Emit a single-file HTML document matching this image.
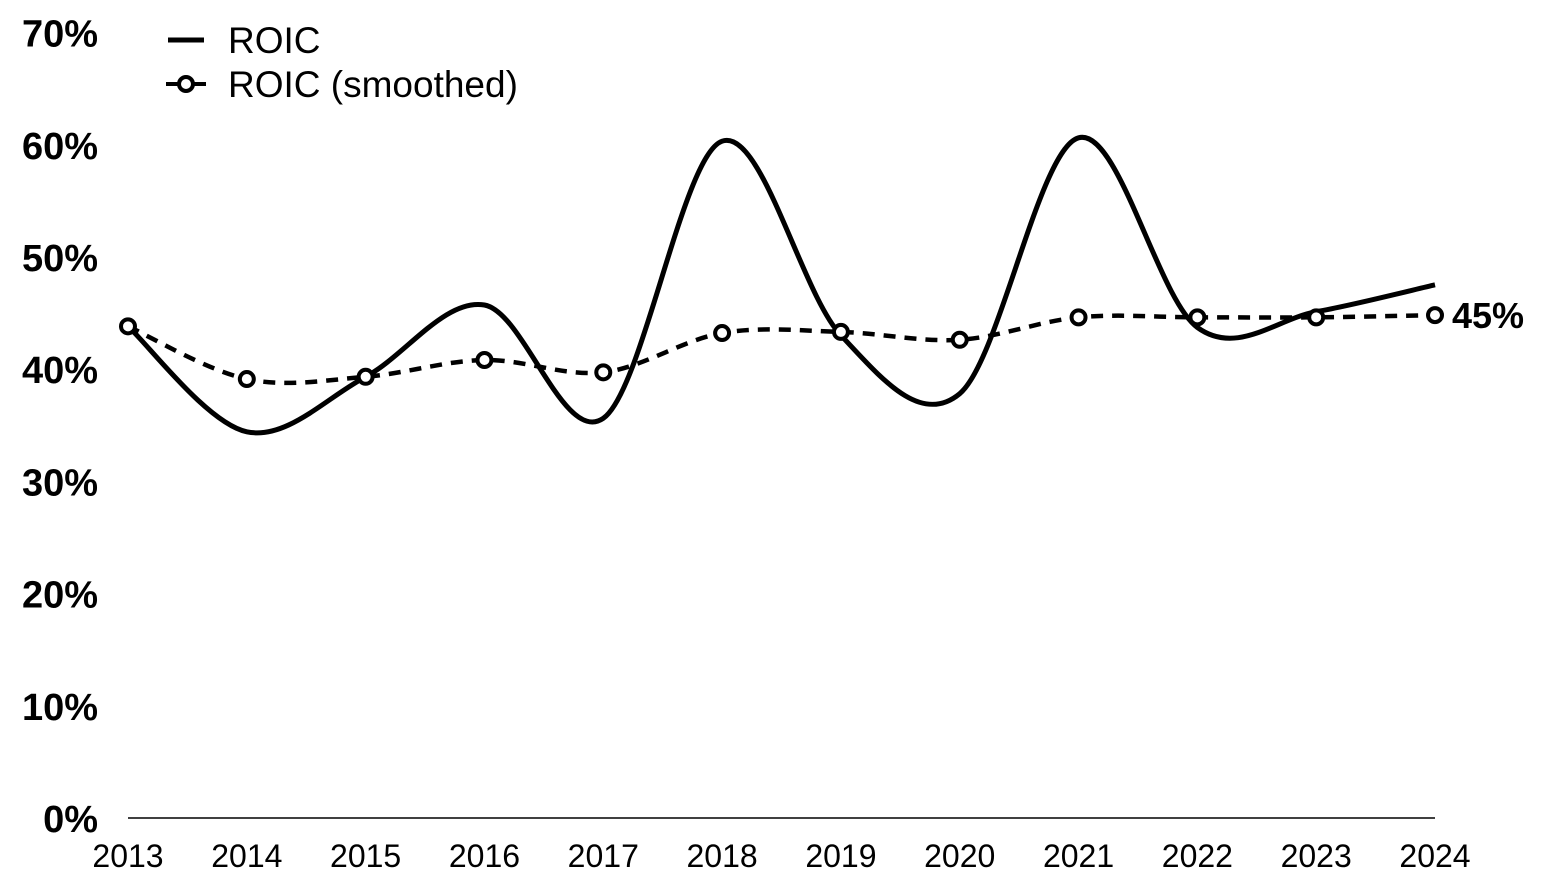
<!DOCTYPE html>
<html><head><meta charset="utf-8"><style>
html,body{margin:0;padding:0;background:#fff;}
svg{display:block;font-family:"Liberation Sans",Arial,sans-serif;}
</style></head><body>
<svg id="chart" width="1556" height="894" viewBox="0 0 1556 894">
<g id="yaxis"></g>
<g id="xaxis"></g>
<line x1="128" y1="818" x2="1435" y2="818" stroke="#000" stroke-width="1.5"/>
<g id="series"></g>
<g>
 <line x1="168" y1="40" x2="204" y2="40" stroke="#000" stroke-width="5"/>
 <text x="228" y="53" font-size="37">ROIC</text>
 <line x1="166" y1="84" x2="206" y2="84" stroke="#000" stroke-width="4"/>
 <circle cx="186" cy="84" r="7" fill="#fff" stroke="#000" stroke-width="4"/>
 <text x="228" y="97" font-size="37">ROIC (smoothed)</text>
</g>
</svg>
<script>
const years = ["2013","2014","2015","2016","2017","2018","2019","2020","2021","2022","2023","2024"];
const roic = [44.0,34.6,39.5,45.9,35.8,60.5,43.2,38.0,60.8,43.9,45.3,47.7];
const roicSmoothed = [44.0,39.3,39.5,41.0,39.9,43.4,43.5,42.8,44.8,44.8,44.8,45.0];
const yTicks = [0,10,20,30,40,50,60,70];
const endLabel = "45%";

const NS="http://www.w3.org/2000/svg";
const x0=128,x1=1435,y0=820,pxPer=11.22;
const xs=i=>x0+i*(x1-x0)/(years.length-1);
const ys=v=>y0-v*pxPer;
function mk(tag,attrs,parent){const e=document.createElementNS(NS,tag);for(const k in attrs)e.setAttribute(k,attrs[k]);parent.appendChild(e);return e;}
const yg=document.getElementById('yaxis'),xg=document.getElementById('xaxis'),sg=document.getElementById('series');
yTicks.forEach(t=>{const e=mk('text',{x:98,y:ys(t)+12,'text-anchor':'end','font-size':'38','font-weight':'bold'},yg);


e.textContent=t+'%';});
years.forEach((yr,i)=>{const e=mk('text',{x:xs(i),y:867,'text-anchor':'middle','font-size':'32'},xg);


e.textContent=yr;});
function smoothPath(vals){const p=vals.map((v,i)=>[xs(i),ys(v)]);let d=`M${p[0][0]},${p[0][1]}`;
for(let i=0;i<p.length-1;i++){const a=p[Math.max(i-1,0)],b=p[i],c=p[i+1],e=p[Math.min(i+2,p.length-1)];
d+=` C${b[0]+(c[0]-a[0])/6},${b[1]+(c[1]-a[1])/6} ${c[0]-(e[0]-b[0])/6},${c[1]-(e[1]-b[1])/6} ${c[0]},${c[1]}`;}return d;}
const l1=mk('path',{d:smoothPath(roic),fill:'none',stroke:'#000','stroke-width':'5'},sg);


const l2=mk('path',{d:smoothPath(roicSmoothed),fill:'none',stroke:'#000','stroke-width':'4.5','stroke-dasharray':'12 9'},sg);


roicSmoothed.forEach((v,i)=>{const c=mk('circle',{cx:xs(i),cy:ys(v),r:7,fill:'#fff',stroke:'#000','stroke-width':'4'},sg);

});
const last=roicSmoothed.length-1;
const lbl=mk('text',{x:xs(last)+17,y:ys(roicSmoothed[last])+13,'font-size':'36','font-weight':'bold'},sg);


lbl.textContent=endLabel;
</script>
</body></html>
